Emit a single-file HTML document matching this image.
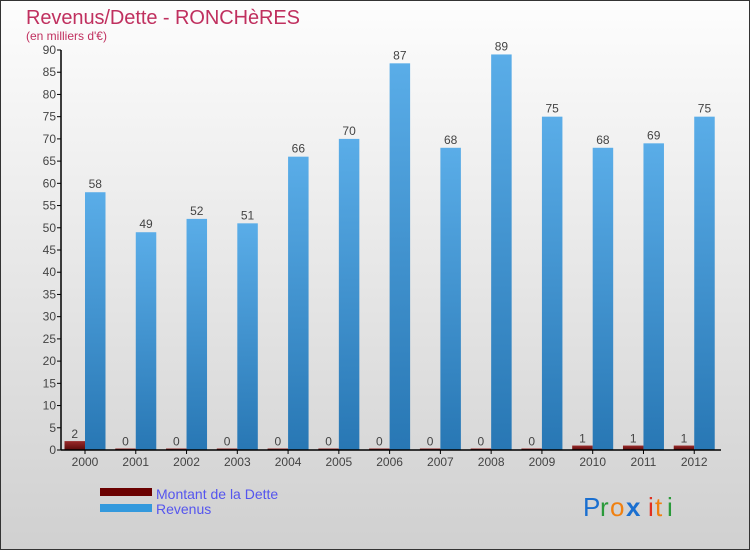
<!DOCTYPE html>
<html><head><meta charset="utf-8"><style>
body{margin:0;width:750px;height:550px;overflow:hidden}
svg{display:block;font-family:"Liberation Sans","DejaVu Sans",sans-serif}
</style></head><body>
<svg width="750" height="550" viewBox="0 0 750 550">
<defs>
<linearGradient id="bg" x1="0" y1="0" x2="0" y2="1"><stop offset="0" stop-color="#fdfdfd"/><stop offset="1" stop-color="#d0d0d0"/></linearGradient>
<linearGradient id="blue" x1="0" y1="0" x2="0" y2="1"><stop offset="0" stop-color="#5aade8"/><stop offset="1" stop-color="#2877b4"/></linearGradient>
<linearGradient id="red" x1="0" y1="0" x2="0" y2="1"><stop offset="0" stop-color="#9a2a2a"/><stop offset="1" stop-color="#5a0a0a"/></linearGradient>
</defs>
<rect x="0.5" y="0.5" width="749" height="549" fill="url(#bg)" stroke="#333"/>
<text x="26" y="24" font-size="20" fill="#c0305f" textLength="274">Revenus/Dette - RONCHèRES</text>
<text x="26" y="40" font-size="12" fill="#c0305f">(en milliers d'€)</text>
<g id="plot"></g>
<rect x="100" y="488" width="52" height="8" fill="#6a0000"/>
<text x="156" y="499" font-size="14" fill="#5555ee">Montant de la Dette</text>
<rect x="100" y="504" width="52" height="8" fill="#3399dd"/>
<text x="156" y="514" font-size="14" fill="#5555ee">Revenus</text>
<g font-size="26">
<text x="583" y="516" fill="#1a6fd0">P</text><text x="600" y="516" fill="#2a9a3a">r</text><text x="610" y="516" fill="#f08010">o</text><text x="626" y="516" fill="#1a6fd0" font-weight="bold">x</text><text x="648" y="516" fill="#e03020">i</text><text x="655" y="516" fill="#f08010">t</text><text x="667" y="516" fill="#2a9a3a">i</text>
</g>
</svg>
<script>
const years=["2000","2001","2002","2003","2004","2005","2006","2007","2008","2009","2010","2011","2012"];
const debt=[2,0,0,0,0,0,0,0,0,0,1,1,1];
const revenue=[58,49,52,51,66,70,87,68,89,75,68,69,75];
const yTicks=[0,5,10,15,20,25,30,35,40,45,50,55,60,65,70,75,80,85,90];
const NS="http://www.w3.org/2000/svg";
const g=document.getElementById('plot');
const x0=61,x1=721,y0=450,yTop=50,yMax=90;
const step=(x1-x0)/years.length;
const y=v=>y0-(v/yMax)*(y0-yTop);
function mk(t,a,p){const e=document.createElementNS(NS,t);for(const k in a)e.setAttribute(k,a[k]);(p||g).appendChild(e);return e;}
yTicks.forEach(v=>{
 const t=mk('line',{x1:x0-4,x2:x0,y1:y(v),y2:y(v),stroke:'#000'});
 
 
 const l=mk('text',{x:x0-5,y:y(v)+4,'font-size':12,'text-anchor':'end',fill:'#444'});
 l.textContent=v;
 
 
});
years.forEach((yr,i)=>{
 const gx=x0+step*i;
 const bw=20.5;
 const rx=gx+3.5,bx=rx+bw;
 const dh=Math.max(y0-y(debt[i]),1.5);
 const r=mk('rect',{x:rx,y:y0-dh,width:bw,height:dh,fill:'url(#red)'});
 
 
 const dl=mk('text',{x:rx+bw/2,y:y0-dh-3,'font-size':12,'text-anchor':'middle',fill:'#444'});
 dl.textContent=debt[i];
 
 
 const b=mk('rect',{x:bx,y:y(revenue[i]),width:bw,height:y0-y(revenue[i]),fill:'url(#blue)'});
 
 
 const bl=mk('text',{x:bx+bw/2,y:y(revenue[i])-4,'font-size':12,'text-anchor':'middle',fill:'#444'});
 bl.textContent=revenue[i];
 
 
 const tk=mk('line',{x1:bx,x2:bx,y1:y0,y2:y0+4,stroke:'#000'});
 
 
 const xl=mk('text',{x:bx,y:y0+16,'font-size':12,'text-anchor':'middle',fill:'#444'});
 xl.textContent=yr;
 
 
});
const ya=mk('line',{x1:x0,x2:x0,y1:yTop,y2:y0,stroke:'#000','stroke-width':1.5});


const xa=mk('line',{x1:x0,x2:x1,y1:y0,y2:y0,stroke:'#000','stroke-width':1.5});


</script>
</body></html>
